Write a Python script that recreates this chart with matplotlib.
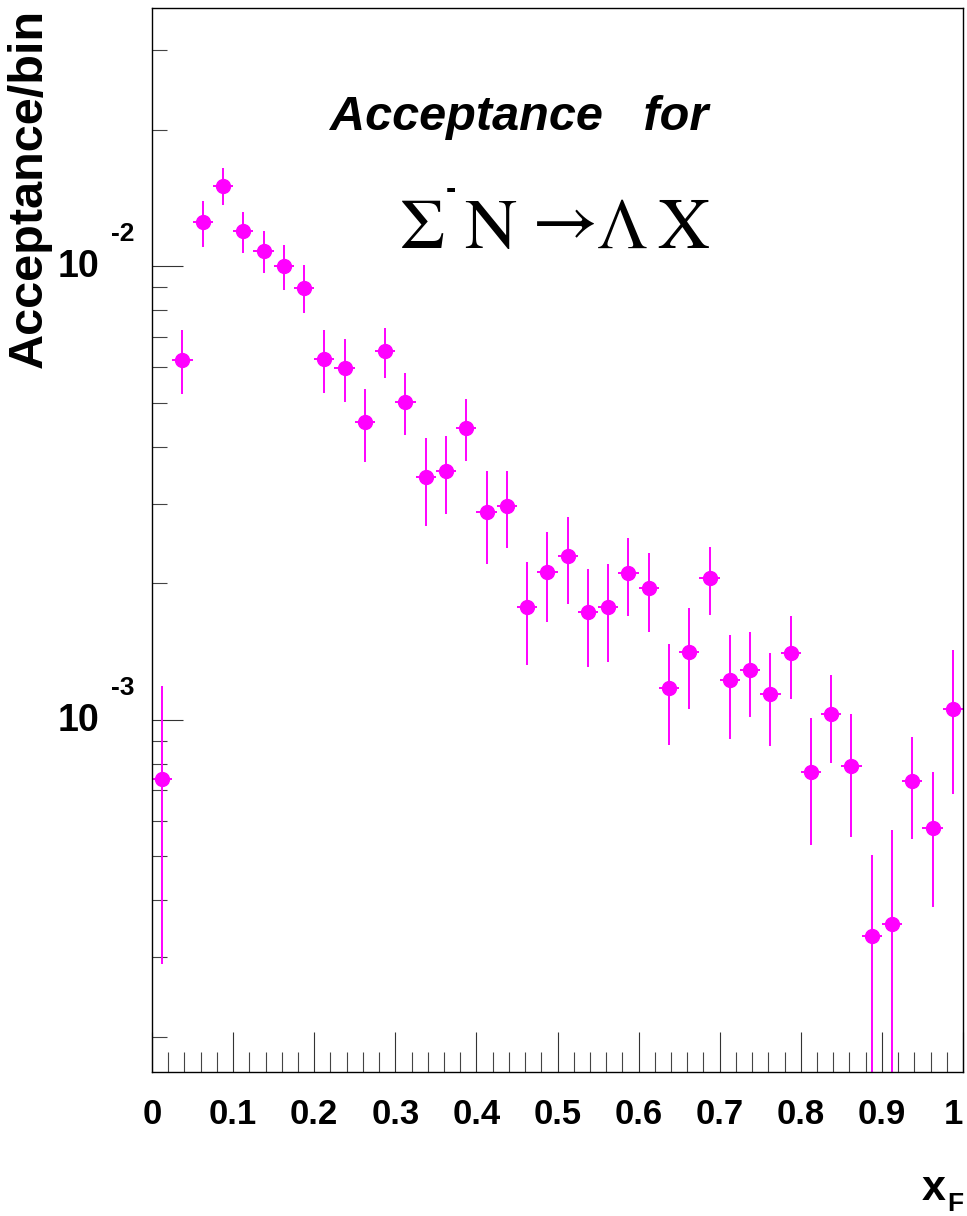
import numpy as np
import matplotlib
matplotlib.use("Agg")
import matplotlib.pyplot as plt
from matplotlib import font_manager
from matplotlib.ticker import LogLocator, MultipleLocator, NullFormatter
from matplotlib.transforms import offset_copy

# ---------- Data ----------
xf_centers = [0.0125, 0.0375, 0.0625, 0.0875, 0.1125, 0.1375, 0.1625, 0.1875,
              0.2125, 0.2375, 0.2625, 0.2875, 0.3125, 0.3375, 0.3625, 0.3875,
              0.4125, 0.4375, 0.4625, 0.4875, 0.5125, 0.5375, 0.5625, 0.5875,
              0.6125, 0.6375, 0.6625, 0.6875, 0.7125, 0.7375, 0.7625, 0.7875,
              0.8125, 0.8375, 0.8625, 0.8875, 0.9125, 0.9375, 0.9625, 0.9875]
half_bin = 0.0125

acceptance = [7.4e-4, 6.23e-3, 1.25e-2, 1.505e-2, 1.196e-2, 1.081e-2, 1.0e-2, 8.97e-3,
              6.25e-3, 5.97e-3, 4.54e-3, 6.5e-3, 5.03e-3, 3.43e-3, 3.53e-3, 4.41e-3,
              2.87e-3, 2.96e-3, 1.775e-3, 2.12e-3, 2.3e-3, 1.73e-3, 1.775e-3, 2.107e-3,
              1.95e-3, 1.174e-3, 1.413e-3, 2.056e-3, 1.223e-3, 1.29e-3, 1.139e-3, 1.405e-3,
              7.69e-4, 1.03e-3, 7.91e-4, 3.34e-4, 3.54e-4, 7.32e-4, 5.77e-4, 1.056e-3]

acc_err = [4.5e-4, 1.0e-3, 1.45e-3, 1.42e-3, 1.25e-3, 1.15e-3, 1.15e-3, 1.08e-3,
           1.0e-3, 0.95e-3, 0.83e-3, 0.83e-3, 0.78e-3, 0.75e-3, 0.69e-3, 0.68e-3,
           0.66e-3, 0.57e-3, 0.45e-3, 0.48e-3, 0.5e-3, 0.42e-3, 0.435e-3, 0.41e-3,
           0.385e-3, 0.295e-3, 0.355e-3, 0.356e-3, 0.314e-3, 0.275e-3, 0.265e-3, 0.294e-3,
           0.24e-3, 0.227e-3, 0.24e-3, 0.17e-3, 0.217e-3, 0.186e-3, 0.19e-3, 0.37e-3]

x_ticks = [0.0, 0.1, 0.2, 0.3, 0.4, 0.5, 0.6, 0.7, 0.8, 0.9, 1.0]
x_tick_labels = ["0", "0.1", "0.2", "0.3", "0.4", "0.5", "0.6", "0.7", "0.8", "0.9", "1"]
y_major = [1e-3, 1e-2]
y_major_exp = ["-3", "-2"]

# ---------- Fonts ----------
names = {f.name for f in font_manager.fontManager.ttflist}
SANS = "Liberation Sans Narrow" if "Liberation Sans Narrow" in names else "Liberation Sans"
plt.rcParams["font.family"] = [SANS, "DejaVu Sans"]
plt.rcParams["mathtext.fontset"] = "stix"

W, H = 967, 1216
def fx(x):
    return x / W
def fy(y):
    return 1 - y / H

# ---------- Figure ----------
fig = plt.figure(figsize=(W / 100, H / 100), dpi=100)
ax = fig.add_axes([fx(152), fy(1072), fx(963) - fx(152), fy(8) - fy(1072)])

ax.errorbar(xf_centers, acceptance, yerr=acc_err, xerr=half_bin,
            fmt="o", color="#ff00ff", ms=10, lw=1.4, capsize=0)

ax.set_yscale("log")
ax.set_xlim(0, 1)
ax.set_ylim(1.674e-4, 3.713e-2)

for s in ax.spines.values():
    s.set_linewidth(1.0)
    s.set_color("black")

# x axis
ax.set_xticks(x_ticks)
ax.set_xticklabels(x_tick_labels)
ax.xaxis.set_minor_locator(MultipleLocator(0.02))
ax.tick_params(axis="x", which="major", direction="in", length=28.8, width=0.8,
               color="#333333", labelsize=25, pad=19)
ax.tick_params(axis="x", which="minor", direction="in", length=14.4, width=0.8,
               color="#444444")
xlabs = ax.get_xticklabels()
for lab in xlabs:
    lab.set_fontweight("bold")
xlabs[-1].set_horizontalalignment("right")
xlabs[-1].set_x(1.0)

# y axis
ax.yaxis.set_major_locator(LogLocator(base=10))
ax.yaxis.set_minor_locator(LogLocator(base=10, subs=range(2, 10)))
ax.yaxis.set_minor_formatter(NullFormatter())
ax.tick_params(axis="y", which="major", direction="in", length=22.3, width=0.8,
               color="#333333", labelleft=False)
ax.tick_params(axis="y", which="minor", direction="in", length=10.8, width=0.8,
               color="#444444", labelleft=False)

for val, ex in zip(y_major, y_major_exp):
    t1 = offset_copy(ax.get_yaxis_transform(), fig=fig, x=-53, y=-1, units="dots")
    ax.text(0, val, "10", transform=t1, ha="right", va="center",
            fontsize=27, fontweight="bold")
    t2 = offset_copy(ax.get_yaxis_transform(), fig=fig, x=-41, y=20, units="dots")
    ax.text(0, val, ex, transform=t2, ha="left", va="bottom",
            fontsize=19, fontweight="bold")

# axis titles
fig.text(fx(29), fy(9), "Acceptance/bin", rotation=90, ha="center", va="top",
         fontsize=35, fontweight="bold")
fig.text(fx(946), fy(1200), "x", ha="right", va="baseline",
         fontsize=31, fontweight="bold")
fig.text(fx(947), fy(1211), "F", ha="left", va="baseline",
         fontsize=19, fontweight="bold")

# labels inside the frame
fig.text(fx(519), fy(130), "Acceptance   for", ha="center", va="baseline",
         fontsize=35, fontweight="bold", style="italic")
f_size = 52
fig.text(fx(422), fy(248), r"$\Sigma$", ha="center", va="baseline", fontsize=f_size)
fig.text(fx(451), fy(198), "-", ha="center", va="baseline", fontsize=22, fontweight="bold")
fig.text(fx(491), fy(248), r"$\mathrm{N}$", ha="center", va="baseline", fontsize=f_size)
fig.text(fx(558), fy(240), r"$\rightarrow$", ha="center", va="baseline", fontsize=f_size)
fig.text(fx(622), fy(248), r"$\Lambda$", ha="center", va="baseline", fontsize=f_size)
fig.text(fx(683), fy(248), r"$\mathrm{X}$", ha="center", va="baseline", fontsize=f_size)

fig.savefig("out.png", dpi=100)
